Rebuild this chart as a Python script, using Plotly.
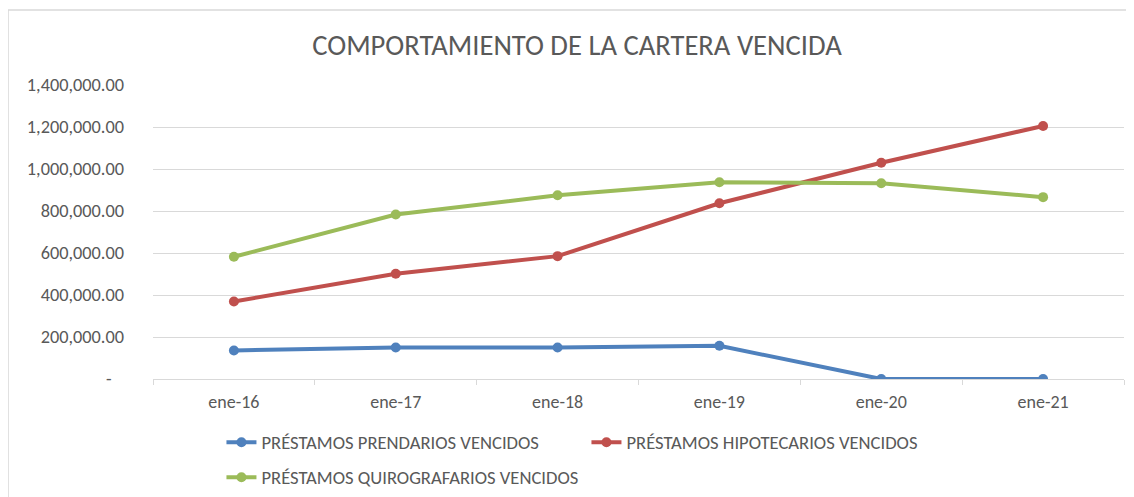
import plotly.graph_objects as go

# datos
meses = ["ene-16", "ene-17", "ene-18", "ene-19", "ene-20", "ene-21"]
prendarios = [136000, 150000, 150000, 158000, 0, 0]
hipotecarios = [369000, 501000, 585000, 837000, 1030000, 1205000]
quirografarios = [582000, 783000, 875000, 937000, 932000, 866000]

y_ticks = [0, 200000, 400000, 600000, 800000, 1000000, 1200000, 1400000]
y_text = ["-\u00a0\u00a0\u00a0"] + [f"{v:,.2f}" for v in y_ticks[1:]]

FONT = "Carlito, Calibri, Lato, sans-serif"
GRIS = "#595959"

fig = go.Figure()

series = [
    ("PRÉSTAMOS PRENDARIOS VENCIDOS", prendarios, "#4F81BD", "legend"),
    ("PRÉSTAMOS HIPOTECARIOS VENCIDOS", hipotecarios, "#C0504D", "legend"),
    ("PRÉSTAMOS QUIROGRAFARIOS VENCIDOS", quirografarios, "#9BBB59", "legend2"),
]
for name, vals, color, leg in series:
    fig.add_trace(go.Scatter(
        x=meses, y=vals, name=name, mode="lines+markers",
        line=dict(color=color, width=4),
        marker=dict(color=color, size=10),
        legend=leg,
    ))

# la pagina tiene 8px de margen en el body, se compensa aqui
fig.update_layout(
    width=1126, height=489,
    margin=dict(l=145, r=10, t=77, b=118, autoexpand=False),
    paper_bgcolor="white", plot_bgcolor="white",
    font=dict(family=FONT, size=18, color=GRIS),
    title=dict(text="COMPORTAMIENTO DE LA CARTERA VENCIDA",
               x=0.5053, xanchor="center", y=0.925, yanchor="middle",
               font=dict(family=FONT, size=28.6, color=GRIS)),
    legend=dict(orientation="h", x=0.0705, y=-0.2164, xanchor="left", yanchor="middle",
                entrywidth=320, font=dict(size=18.6, color=GRIS), bgcolor="rgba(0,0,0,0)"),
    legend2=dict(orientation="h", x=0.0705, y=-0.3354, xanchor="left", yanchor="middle",
                 font=dict(size=18.6, color=GRIS), bgcolor="rgba(0,0,0,0)"),
    shapes=[dict(type="rect", xref="paper", yref="paper",
                 x0=-0.1493, x1=1.03, y0=-0.5, y1=1.2548,
                 line=dict(color="#D9D9D9", width=1.5))],
)

fig.update_xaxes(
    type="category", range=[-0.5, 5.5],
    showline=True, linecolor="#D9D9D9", linewidth=1,
    ticks="outside", tickson="boundaries", ticklen=5, tickcolor="#D9D9D9",
    ticklabelstandoff=6,
    showgrid=False, tickfont=dict(size=18, color=GRIS),
)
fig.update_yaxes(
    range=[0, 1400000], tickvals=y_ticks, ticktext=y_text,
    showgrid=True, gridcolor="#D9D9D9", gridwidth=1,
    zeroline=False, showline=False, ticks="",
    ticklabelstandoff=28, tickfont=dict(size=18.3, color=GRIS),
)

fig.write_html("out.html")
